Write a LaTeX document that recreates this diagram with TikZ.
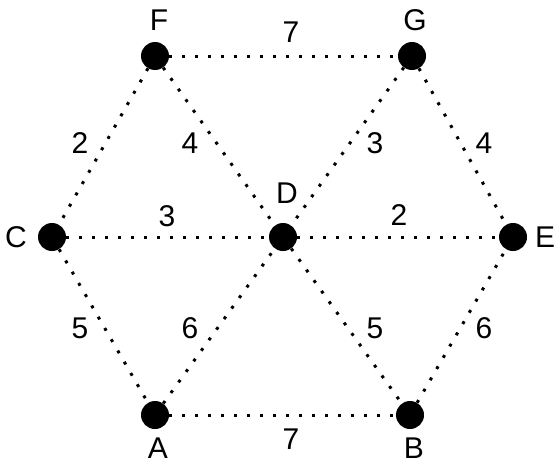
\documentclass[tikz,border=0pt]{standalone}
\usepackage{fontspec}
\setmainfont{Liberation Sans}
\begin{document}
\begin{tikzpicture}[x=1pt,y=-1pt,
  vtx/.style={circle,fill=black,inner sep=0pt,minimum size=28pt},
  lbl/.style={inner sep=0pt,font=\fontsize{30}{34}\selectfont},
  edge/.style={line width=3pt,dash pattern=on 3pt off 10pt}]
\useasboundingbox (0,0) rectangle (557,463);
\node[vtx] (F) at (155,56) {};
\node[vtx] (G) at (412,56) {};
\node[vtx] (C) at (52,237) {};
\node[vtx] (D) at (283,237) {};
\node[vtx] (E) at (513,237) {};
\node[vtx] (A) at (155,415) {};
\node[vtx] (B) at (410,415) {};
\draw[edge] (F) -- (G);
\draw[edge] (F) -- (C);
\draw[edge] (F) -- (D);
\draw[edge] (G) -- (D);
\draw[edge] (G) -- (E);
\draw[edge] (C) -- (D);
\draw[edge] (D) -- (E);
\draw[edge] (C) -- (A);
\draw[edge] (A) -- (D);
\draw[edge] (D) -- (B);
\draw[edge] (B) -- (E);
\draw[edge] (A) -- (B);
\node[lbl] (lF) at (159,20) {F};
\node[lbl] (lG) at (415,20) {G};
\node[lbl] (lC) at (16,237) {C};
\node[lbl] (lD) at (287,193) {D};
\node[lbl] (lE) at (545,237) {E};
\node[lbl] (lA) at (158,448) {A};
\node[lbl] (lB) at (414,448) {B};
\node[lbl] (wFG) at (291,32) {7};
\node[lbl] (wFC) at (80,143) {2};
\node[lbl] (wFD) at (190,143) {4};
\node[lbl] (wGD) at (375,143) {3};
\node[lbl] (wGE) at (484,143) {4};
\node[lbl] (wCD) at (167,216) {3};
\node[lbl] (wDE) at (399,215) {2};
\node[lbl] (wCA) at (80,328) {5};
\node[lbl] (wAD) at (190,328) {6};
\node[lbl] (wDB) at (375,328) {5};
\node[lbl] (wBE) at (484,328) {6};
\node[lbl] (wAB) at (291,439) {7};
\end{tikzpicture}
\end{document}
